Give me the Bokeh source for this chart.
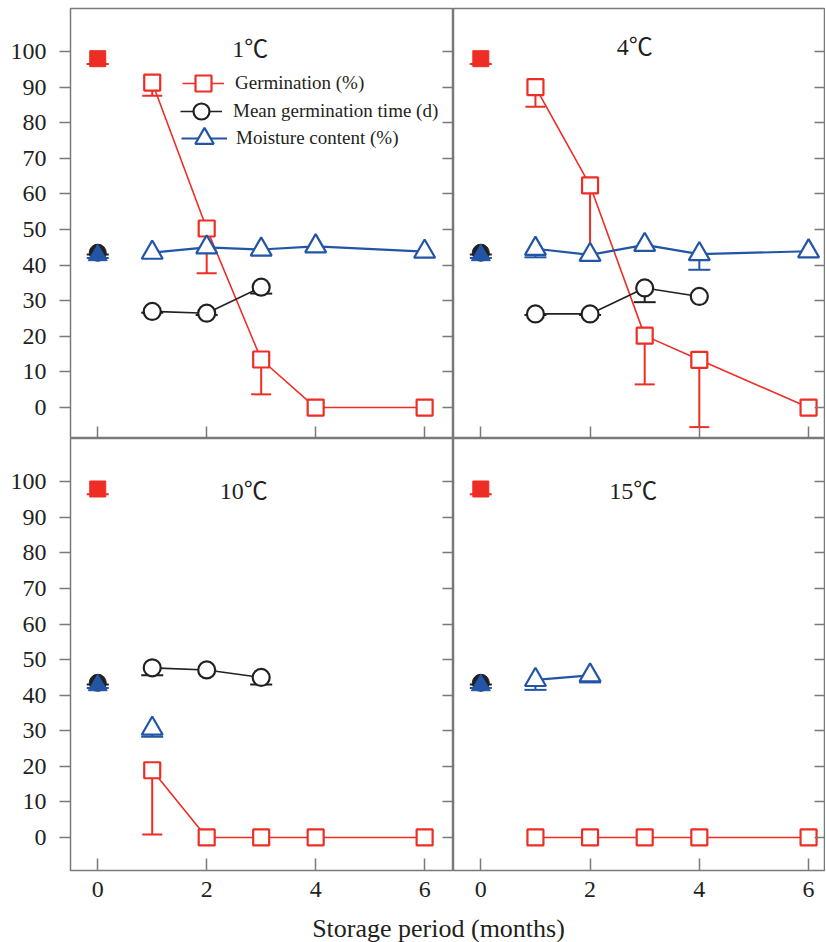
import math
from bokeh.plotting import figure
from bokeh.layouts import gridplot, column
from bokeh.models import (ColumnDataSource, Whisker, TeeHead, Legend, LegendItem,
                          FixedTicker, LinearAxis, Range1d, Label)
from bokeh.embed import file_html
from bokeh.resources import INLINE

nan = float("nan")

# ---------------- data ----------------
months = [1, 2, 3, 4, 6]
initial_month = [0]
initial_germination = [98.0]
initial_germination_low = [96.5]
initial_mgt = [43.5]
initial_mgt_low = [43.0]
initial_moisture = [42.8]
initial_moisture_low = [42.0]

panel_labels = ["1℃", "4℃", "10℃", "15℃"]
legend_labels = ["Germination (%)", "Mean germination time (d)", "Moisture content (%)"]
x_ticks = [0, 2, 4, 6]
y_ticks = [0, 10, 20, 30, 40, 50, 60, 70, 80, 90, 100]
axis_title = "Storage period (months)"

# 1 C
germ_1 = [91.3, 50.3, 13.5, 0.0, 0.0]
germ_1_low = [87.6, 37.7, 3.7, nan, nan]
mgt_1 = [27.0, 26.5, 33.8, nan, nan]
mgt_1_low = [26.6, 26.0, 32.0, nan, nan]
moist_1 = [43.5, 45.0, 44.4, 45.3, 43.8]
moist_1_low = [nan, nan, nan, nan, nan]

# 4 C
germ_4 = [90.0, 62.4, 20.2, 13.4, 0.0]
germ_4_low = [84.5, 41.6, 6.5, -5.5, nan]
mgt_4 = [26.3, 26.3, 33.6, 31.2, nan]
mgt_4_low = [26.0, 26.0, 29.6, nan, nan]
moist_4 = [44.6, 42.9, 45.7, 43.1, 43.9]
moist_4_low = [42.2, nan, nan, 38.7, nan]

# 10 C
germ_10 = [18.9, 0.0, 0.0, 0.0, 0.0]
germ_10_low = [0.8, nan, nan, nan, nan]
mgt_10 = [47.7, 47.1, 45.0, nan, nan]
mgt_10_low = [45.6, nan, 43.0, nan, nan]
moist_10 = [30.6, nan, nan, nan, nan]
moist_10_low = [28.3, nan, nan, nan, nan]

# 15 C
germ_15 = [0.0, 0.0, 0.0, 0.0, 0.0]
germ_15_low = [nan, nan, nan, nan, nan]
mgt_15 = [nan, nan, nan, nan, nan]
mgt_15_low = [nan, nan, nan, nan, nan]
moist_15 = [44.3, 45.6, nan, nan, nan]
moist_15_low = [41.5, 43.6, nan, nan, nan]

panels = [
    (germ_1, germ_1_low, mgt_1, mgt_1_low, moist_1, moist_1_low),
    (germ_4, germ_4_low, mgt_4, mgt_4_low, moist_4, moist_4_low),
    (germ_10, germ_10_low, mgt_10, mgt_10_low, moist_10, moist_10_low),
    (germ_15, germ_15_low, mgt_15, mgt_15_low, moist_15, moist_15_low),
]

# ---------------- style ----------------
RED = "#EE2D24"
BLACK = "#231F20"
BLUE = "#2255A6"
GRAY = "#7A7A7A"
TEXT = "#231F20"
SERIF = "Liberation Serif"
LABEL_FONT = "Liberation Serif, Noto Sans CJK SC"


def add_err(p, xs, vals, lows, color, lw, head):
    bx, up, lo = [], [], []
    for x, v, l in zip(xs, vals, lows):
        if not (isinstance(l, float) and math.isnan(l)):
            bx.append(x)
            up.append(v)
            lo.append(l)
    if not bx:
        return
    s = ColumnDataSource(dict(base=bx, upper=up, lower=lo))
    w = Whisker(source=s, base="base", upper="upper", lower="lower",
                dimension="height", line_color=color, line_width=lw,
                upper_head=None,
                lower_head=TeeHead(size=head, line_color=color, line_width=lw),
                level="underlay")
    p.add_layout(w)


def tick_only_axis(ticks, length):
    return LinearAxis(ticker=FixedTicker(ticks=ticks),
                      major_tick_out=0, major_tick_in=length,
                      major_tick_line_color=GRAY, major_tick_line_width=1.5,
                      minor_tick_line_color=None, axis_line_color=None,
                      major_label_text_font_size="1px",
                      major_label_text_color=None,
                      major_label_standoff=0)


def make_panel(idx, left, bottom):
    top_row = idx < 2
    fw = 383 if left else 372
    fh = 430 if top_row else 432
    x_end = 6.53 if left else 6.31
    yr = (-8.7, 112.1) if top_row else (-9.3, 112.2)
    p = figure(frame_width=fw, frame_height=fh,
               x_range=Range1d(-0.5, x_end), y_range=Range1d(*yr),
               output_backend="svg", toolbar_location=None,
               x_axis_location=None, y_axis_location=None,
               min_border_left=70 if left else 0, min_border_right=0,
               min_border_top=8 if top_row else 0,
               min_border_bottom=40 if bottom else 0,
               background_fill_color="white", border_fill_color="white")
    p.grid.visible = False
    p.outline_line_color = GRAY
    p.outline_line_width = 1.5

    if left:
        ya = LinearAxis(ticker=FixedTicker(ticks=y_ticks),
                        major_tick_out=11, major_tick_in=0,
                        major_tick_line_color=GRAY, major_tick_line_width=1.5,
                        minor_tick_line_color=None, axis_line_color=None,
                        major_label_text_font=SERIF,
                        major_label_text_font_size="24px",
                        major_label_text_color=TEXT,
                        major_label_standoff=13)
        p.add_layout(ya, "left")
    p.add_layout(tick_only_axis(y_ticks, 11), "right")
    if bottom:
        xa = LinearAxis(ticker=FixedTicker(ticks=x_ticks),
                        major_tick_out=0, major_tick_in=12,
                        major_tick_line_color=GRAY, major_tick_line_width=1.5,
                        minor_tick_line_color=None, axis_line_color=None,
                        major_label_text_font=SERIF,
                        major_label_text_font_size="24px",
                        major_label_text_color=TEXT,
                        major_label_standoff=11)
    else:
        xa = tick_only_axis(x_ticks, 12)
    p.add_layout(xa, "below")

    germ, germ_low, mgt, mgt_low, moist, moist_low = panels[idx]

    # error bars (under markers)
    add_err(p, initial_month, initial_germination, initial_germination_low, RED, 2, 22)
    add_err(p, initial_month, initial_mgt, initial_mgt_low, BLACK, 2, 22)
    add_err(p, initial_month, initial_moisture, initial_moisture_low, BLUE, 2, 22)
    add_err(p, months, germ, germ_low, RED, 2, 20)
    add_err(p, months, mgt, mgt_low, BLACK, 2, 22)
    add_err(p, months, moist, moist_low, BLUE, 2, 22)

    src = ColumnDataSource(dict(x=months, germ=germ, mgt=mgt, moist=moist))
    l_g = p.line("x", "germ", source=src, line_color=RED, line_width=1.6)
    l_m = p.line("x", "mgt", source=src, line_color=BLACK, line_width=1.6)
    l_w = p.line("x", "moist", source=src, line_color=BLUE, line_width=2.2)

    # initial (filled) values
    p.scatter(initial_month, initial_germination, marker="square", size=16,
              fill_color=RED, line_color=RED, line_width=1)
    p.scatter(initial_month, initial_mgt, marker="circle", size=17,
              fill_color=BLACK, line_color=BLACK, line_width=1)
    p.scatter(initial_month, initial_moisture, marker="triangle", size=19,
              fill_color=BLUE, line_color=BLUE, line_width=1)

    m_g = p.scatter("x", "germ", source=src, marker="square", size=16,
                    fill_color="white", line_color=RED, line_width=2.2)
    m_m = p.scatter("x", "mgt", source=src, marker="circle", size=17,
                    fill_color="white", line_color=BLACK, line_width=2.2)
    m_w = p.scatter("x", "moist", source=src, marker="triangle", size=21,
                    fill_color="white", line_color=BLUE, line_width=2.2)

    lx = [2.8, 2.82, 2.68, 2.79][idx]
    ly = [100.8, 101.2, 97.4, 97.4][idx]
    p.add_layout(Label(x=lx, y=ly, text=panel_labels[idx], text_align="center",
                       text_baseline="alphabetic", text_font=LABEL_FONT,
                       text_font_size="24px", text_color=TEXT))

    if idx == 0:
        rows = [(l_g, m_g), (l_m, m_m), (l_w, m_w)]
        locs = [(112, 335), (110, 307), (111, 277)]
        gsize = [(42, 40), (42, 40), (46, 46)]
        for (lr, mr), lab, loc, (gw, gh) in zip(rows, legend_labels, locs, gsize):
            lg = Legend(items=[LegendItem(label=lab, renderers=[lr, mr])],
                        location=loc, glyph_width=gw, glyph_height=gh,
                        padding=0, margin=0, label_standoff=11 if gw == 42 else 9,
                        border_line_color=None, background_fill_alpha=0,
                        label_text_font=SERIF, label_text_font_size="19px",
                        label_text_color=TEXT)
            p.add_layout(lg)
    return p


p1 = make_panel(0, True, False)
p2 = make_panel(1, False, False)
p3 = make_panel(2, True, True)
p4 = make_panel(3, False, True)

grid = gridplot([[p1, p2], [p3, p4]], toolbar_location=None)

t = figure(width=825, height=32, output_backend="svg", toolbar_location=None,
           x_axis_location=None, y_axis_location=None, min_border=0,
           x_range=Range1d(0, 1), y_range=Range1d(0, 1))
t.grid.visible = False
t.outline_line_color = None
t.add_layout(Label(x=438, y=14, x_units="screen", y_units="screen",
                   text=axis_title, text_align="center",
                   text_baseline="middle", text_font=SERIF,
                   text_font_size="26px", text_color=TEXT))

page = column(grid, t)
open("out.html", "w").write(file_html(page, INLINE))
